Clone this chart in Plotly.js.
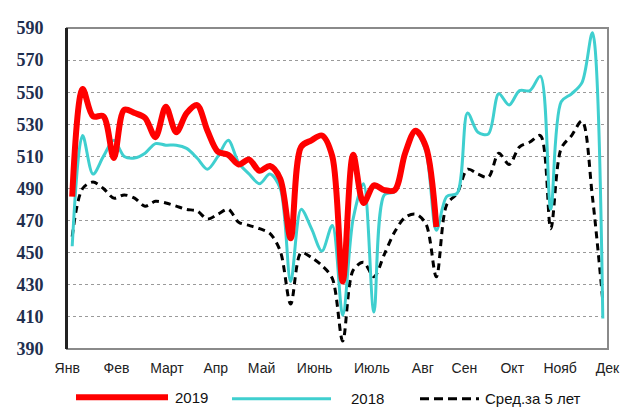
<!DOCTYPE html>
<html>
<head>
<meta charset="utf-8">
<script src="https://cdn.plot.ly/plotly-3.0.1.min.js"></script>
<style>html,body{margin:0;padding:0;background:#fff;}#chart{width:626px;height:407px;}</style>
</head>
<body>
<div id="chart"></div>
<script>
// Weekly data (week 1..52)
const weeks = Array.from({length: 52}, (_, i) => i + 1);
const series2019 = [485,552,535,535,509,539,537,534,522,541,525,537,542,526,513,511,505,508,501,504,496,459,516,520,523,510,432,511,481,492,489,489,512,526,516,466];
const series2018 = [454,523,499,510,520,510,509,512,518,517,517,515,509,502,510,520,506,499,493,499,490,432,477,465,451,467,411,471,493,413,486,488,510,525,513,464,485,487,537,525,524,549,542,551,551,560,477,544,549,556,587,409];
const seriesAvg5 = [460,490,494,490,484,486,484,479,482,481,479,477,476,471,474,477,469,467,465,462,451,418,450,447,442,434,395,439,444,435,449,463,472,474,468,435,480,487,502,499,497,512,505,516,519,523,465,515,523,532,485,420];
const monthLabels = ['Янв','Фев','Март','Апр','Май','Июнь','Июль','Авг','Сен','Окт','Нояб','Дек'];
const monthTickWeeks = [0.52,5.26,10.1,14.8,19.2,24.3,29.8,34.7,38.7,43.3,47.9,52.45];
const yTicks = [390,410,430,450,470,490,510,530,550,570,590];
const names = ['2019','2018','Сред.за 5 лет'];

const traces = [
  {x: weeks.slice(0, series2019.length), y: series2019, name: names[0], mode: 'lines',
   line: {color: '#FF0000', width: 6, shape: 'spline', smoothing: 0.9}},
  {x: weeks, y: series2018, name: names[1], mode: 'lines',
   line: {color: '#3FCFCF', width: 3, shape: 'spline', smoothing: 0.9}},
  {x: weeks, y: seriesAvg5, name: names[2], mode: 'lines',
   line: {color: '#000000', width: 3, dash: '7px,5px', shape: 'spline', smoothing: 0.9}}
];
// reorder so 2019 drawn on top
const data = [traces[2], traces[1], traces[0]];

const legY = -0.150;
function px(x){ return (x - 67) / 541; }
const legFont = {family: 'Liberation Sans', size: 15, color: '#111'};
const layout = {
  width: 626, height: 407,
  margin: {l: 67, r: 18, t: 28, b: 58},
  paper_bgcolor: '#ffffff', plot_bgcolor: '#ffffff',
  showlegend: false,
  xaxis: {
    range: [0.5, 52.5], tickmode: 'array', tickvals: monthTickWeeks, ticktext: monthLabels,
    showgrid: false, zeroline: false, showline: false, ticks: '', ticklabelstandoff: 9,
    tickfont: {family: 'Liberation Sans', size: 14, color: '#222'}
  },
  yaxis: {
    range: [390, 590], tickmode: 'array', tickvals: yTicks,
    showgrid: true, gridcolor: '#9a9a9a', gridwidth: 1, griddash: 'dot',
    zeroline: false, showline: true, linecolor: '#222', linewidth: 2, ticks: '', ticklabelstandoff: 18,
    tickfont: {family: 'Liberation Serif', size: 18, color: '#1F2F4F', weight: 'bold'}
  },
  shapes: [
    {type: 'rect', xref: 'paper', yref: 'paper', x0: 0, x1: 1, y0: 0, y1: 1,
     line: {color: '#8a8a8a', width: 2}, layer: 'above'},
    {type: 'line', xref: 'paper', yref: 'paper', x0: 0, x1: 0, y0: 0, y1: 1,
     line: {color: '#222', width: 2}, layer: 'above'},
    {type: 'line', xref: 'paper', yref: 'paper', x0: px(76), x1: px(168), y0: legY, y1: legY,
     line: {color: '#FF0000', width: 6}},
    {type: 'line', xref: 'paper', yref: 'paper', x0: px(232), x1: px(331), y0: legY - 0.005, y1: legY - 0.005,
     line: {color: '#3FCFCF', width: 3}},
    {type: 'line', xref: 'paper', yref: 'paper', x0: px(420), x1: px(479), y0: legY - 0.005, y1: legY - 0.005,
     line: {color: '#000', width: 3, dash: '9px,5px'}}
  ],
  annotations: [
    {xref: 'paper', yref: 'paper', x: px(173), y: legY, xanchor: 'left', yanchor: 'middle', showarrow: false,
     text: names[0], font: legFont},
    {xref: 'paper', yref: 'paper', x: px(349), y: legY - 0.005, xanchor: 'left', yanchor: 'middle', showarrow: false,
     text: names[1], font: legFont},
    {xref: 'paper', yref: 'paper', x: px(483), y: legY - 0.005, xanchor: 'left', yanchor: 'middle', showarrow: false,
     text: names[2], font: legFont}
  ]
};
Plotly.newPlot('chart', data, layout, {displayModeBar: false, staticPlot: true});
</script>
</body>
</html>
